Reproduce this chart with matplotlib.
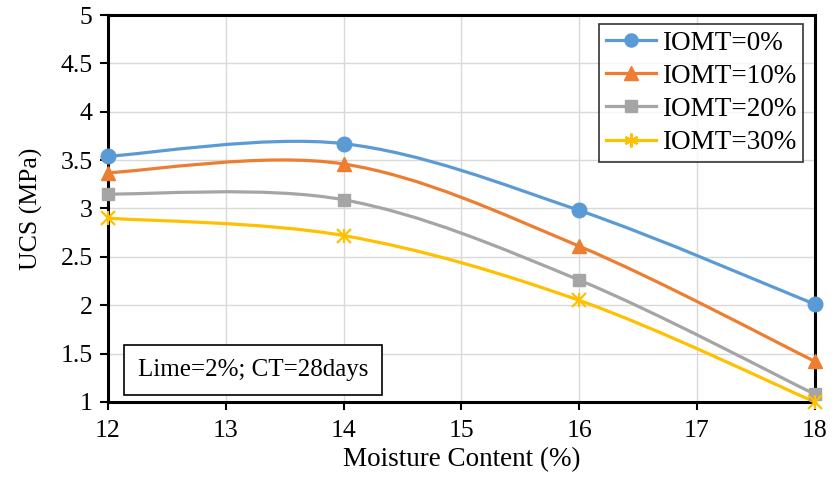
import matplotlib
matplotlib.use("Agg")
import matplotlib.pyplot as plt
from matplotlib.path import Path
from matplotlib.patches import PathPatch
from matplotlib.lines import Line2D
import numpy as np

plt.rcParams['font.family'] = ['Liberation Serif', 'DejaVu Serif']

moisture = [12, 14, 16, 18]
ucs_0 = [3.54, 3.67, 2.98, 2.01]
ucs_10 = [3.37, 3.46, 2.61, 1.42]
ucs_20 = [3.15, 3.09, 2.26, 1.08]
ucs_30 = [2.90, 2.72, 2.05, 1.00]
labels = ["IOMT=0%", "IOMT=10%", "IOMT=20%", "IOMT=30%"]
colors = ["#5B9BD5", "#ED7D31", "#A5A5A5", "#FFC000"]
markers = ["o", "^", "s", "x"]
xticks = [12, 13, 14, 15, 16, 17, 18]
yticks = [1, 1.5, 2, 2.5, 3, 3.5, 4, 4.5, 5]
ytick_labels = ["1", "1.5", "2", "2.5", "3", "3.5", "4", "4.5", "5"]


def smooth_path(xs, ys):
    pts = np.column_stack([xs, ys]).astype(float)
    n = len(pts)
    verts = [pts[0]]
    codes = [Path.MOVETO]
    for i in range(n - 1):
        p0 = pts[i - 1] if i > 0 else pts[i]
        p1 = pts[i]
        p2 = pts[i + 1]
        p3 = pts[i + 2] if i + 2 < n else pts[i + 1]
        c1 = p1 + (p2 - p0) / 6.0
        c2 = p2 - (p3 - p1) / 6.0
        verts += [c1, c2, p2]
        codes += [Path.CURVE4] * 3
    return Path(verts, codes)


fig = plt.figure(figsize=(8.34, 4.92), dpi=100)
ax = fig.add_axes([0.1295, 0.183, 0.8475, 0.7865])

series = [ucs_0, ucs_10, ucs_20, ucs_30]
handles = []
for ys, lab, c, m in zip(series, labels, colors, markers):
    ax.add_patch(PathPatch(smooth_path(moisture, ys), facecolor='none',
                           edgecolor=c, lw=2.3, zorder=3, clip_on=False))
    if m == 'x':
        ax.plot(moisture, ys, linestyle='none', marker='x', ms=10, mew=1.6,
                color=c, zorder=4, clip_on=False)
        ax.plot(moisture, ys, linestyle='none', marker='|', ms=10, mew=1.6,
                color=c, zorder=4, clip_on=False)
        h = Line2D([], [], color=c, lw=2.3, marker=(6, 2, 0), ms=10, mew=1.6)
    else:
        ms = {'o': 10.5, '^': 10.5, 's': 9}[m]
        ax.plot(moisture, ys, linestyle='none', marker=m, ms=ms, color=c,
                mec=c, zorder=4, clip_on=False)
        h = Line2D([], [], color=c, lw=2.3, marker=m, ms=ms * 0.9, mec=c)
    handles.append(h)

ax.set_xlim(12, 18)
ax.set_ylim(1, 5)
ax.set_xticks(xticks)
ax.set_yticks(yticks)
ax.set_yticklabels(ytick_labels)
ax.grid(True, color='#D9D9D9', lw=1.0, zorder=0)
ax.set_axisbelow(True)
for s in ax.spines.values():
    s.set_linewidth(2.2)
    s.set_color('black')
ax.tick_params(axis='both', direction='out', length=6, width=1.5,
               labelsize=18.5, color='black')
ax.tick_params(axis='x', pad=7)
ax.tick_params(axis='y', pad=5)

ax.set_xlabel("Moisture Content (%)", fontsize=19.5, labelpad=4)
ax.set_ylabel("UCS (MPa)", fontsize=18.5, labelpad=13)

leg = ax.legend(handles, labels, loc='upper right', fontsize=19.5,
                frameon=True, fancybox=False, edgecolor='black',
                bbox_to_anchor=(0.983, 0.977), borderpad=0.25,
                handlelength=1.85, handletextpad=0.2, labelspacing=0.3,
                borderaxespad=0.0)
leg.get_frame().set_linewidth(1.2)

ax.text(0.042, 0.083, "Lime=2%; CT=28days", transform=ax.transAxes,
        fontsize=18, va='center', ha='left', zorder=6,
        bbox=dict(boxstyle='square,pad=0.55', fc='white', ec='black', lw=1.2))

fig.savefig("out.png", dpi=100)
